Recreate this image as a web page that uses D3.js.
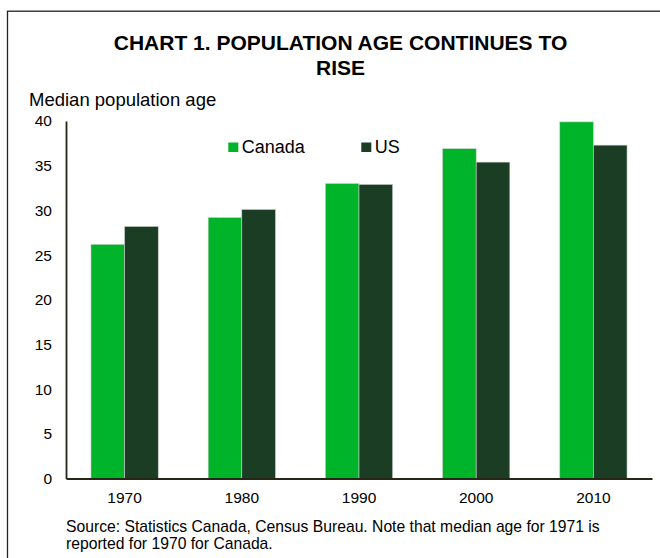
<!DOCTYPE html>
<html>
<head>
<meta charset="utf-8">
<script src="https://cdn.jsdelivr.net/npm/d3@7"></script>
<style>
  html, body { margin: 0; padding: 0; background: #fff; }
  svg { display: block; font-family: Arial, "Liberation Sans", sans-serif; }
</style>
</head>
<body>
<svg id="chart" width="660" height="558"></svg>
<script>
const years = ["1970", "1980", "1990", "2000", "2010"];
const canada = [26.2, 29.2, 33.0, 36.9, 39.9];
const us = [28.2, 30.1, 32.9, 35.4, 37.3];
const seriesNames = ["Canada", "US"];
const yTicks = [0, 5, 10, 15, 20, 25, 30, 35, 40];
const titleLines = ["CHART 1. POPULATION AGE CONTINUES TO", "RISE"];
const yTitle = "Median population age";
const sourceLines = [
  "Source: Statistics Canada, Census Bureau. Note that median age for 1971 is",
  "reported for 1970 for Canada."
];

const colors = { Canada: "#00B42A", US: "#1A3D24" };
const svg = d3.select("#chart");

// frame
svg.append("rect")
  .attr("x", 7.5).attr("y", 11.2)
  .attr("width", 700).attr("height", 600)
  .attr("fill", "none").attr("stroke", "#1e261c").attr("stroke-width", 1.3);

const plot = { left: 66, right: 652, top: 121, bottom: 478.5 };

const x = d3.scaleBand().domain(years)
  .range([plot.left, plot.right])
  .paddingInner(0.426).paddingOuter(0.213);
const xs = d3.scaleBand().domain(seriesNames).range([0, x.bandwidth()]);
const y = d3.scaleLinear().domain([0, 40]).range([plot.bottom, plot.top]);

// title
svg.append("g").selectAll("text").data(titleLines).join("text")
  .attr("x", 340.5).attr("y", (d, i) => 50 + i * 25)
  .attr("text-anchor", "middle")
  .attr("font-weight", "bold").attr("font-size", "21px").attr("fill", "#000")
  .text(d => d);

svg.append("text").attr("x", 29).attr("y", 106)
  .attr("font-size", "18.5px").attr("fill", "#000").text(yTitle);

// bars
const data = years.map((yr, i) => ({ year: yr, values: [
  { name: "Canada", v: canada[i] }, { name: "US", v: us[i] }] }));

const groups = svg.append("g").selectAll("g").data(data).join("g")
  .attr("transform", d => `translate(${x(d.year)},0)`);
groups.selectAll("rect").data(d => d.values).join("rect")
  .attr("x", d => xs(d.name))
  .attr("y", d => y(d.v))
  .attr("width", xs.bandwidth())
  .attr("height", d => y(0) - y(d.v))
  .attr("fill", d => colors[d.name])
  .attr("stroke", "#c8cfc8").attr("stroke-width", 0.6);

// y axis
const yAxis = svg.append("g").attr("transform", `translate(${plot.left},0)`)
  .call(d3.axisLeft(y).tickValues(yTicks).tickSize(0).tickPadding(14));
yAxis.select(".domain").attr("stroke", "#262616").attr("stroke-width", 1.8);
yAxis.selectAll("text").attr("font-size", "15.5px").attr("fill", "#000")
  .attr("font-family", "Arial, 'Liberation Sans', sans-serif");

// x axis
const xAxis = svg.append("g").attr("transform", `translate(0,${plot.bottom})`)
  .call(d3.axisBottom(x).tickSize(0).tickPadding(13));
xAxis.select(".domain").attr("stroke", "#262616").attr("stroke-width", 1.8);
xAxis.selectAll("text").attr("font-size", "15.5px").attr("fill", "#000")
  .attr("font-family", "Arial, 'Liberation Sans', sans-serif");

// legend
const legendX = [228.3, 361.3];
const lg = svg.append("g").selectAll("g").data(seriesNames).join("g")
  .attr("transform", (d, i) => `translate(${legendX[i]},142.5)`);
lg.append("rect").attr("width", 10).attr("height", 9.5).attr("fill", d => colors[d]);
lg.append("text").attr("x", 13.5).attr("y", 10.5)
  .attr("font-size", "18px").attr("fill", "#000").text(d => d);

// source
svg.append("g").selectAll("text").data(sourceLines).join("text")
  .attr("x", 66).attr("y", (d, i) => 532 + i * 16.5)
  .attr("font-size", "15.7px").attr("fill", "#000").text(d => d);
</script>
</body>
</html>
